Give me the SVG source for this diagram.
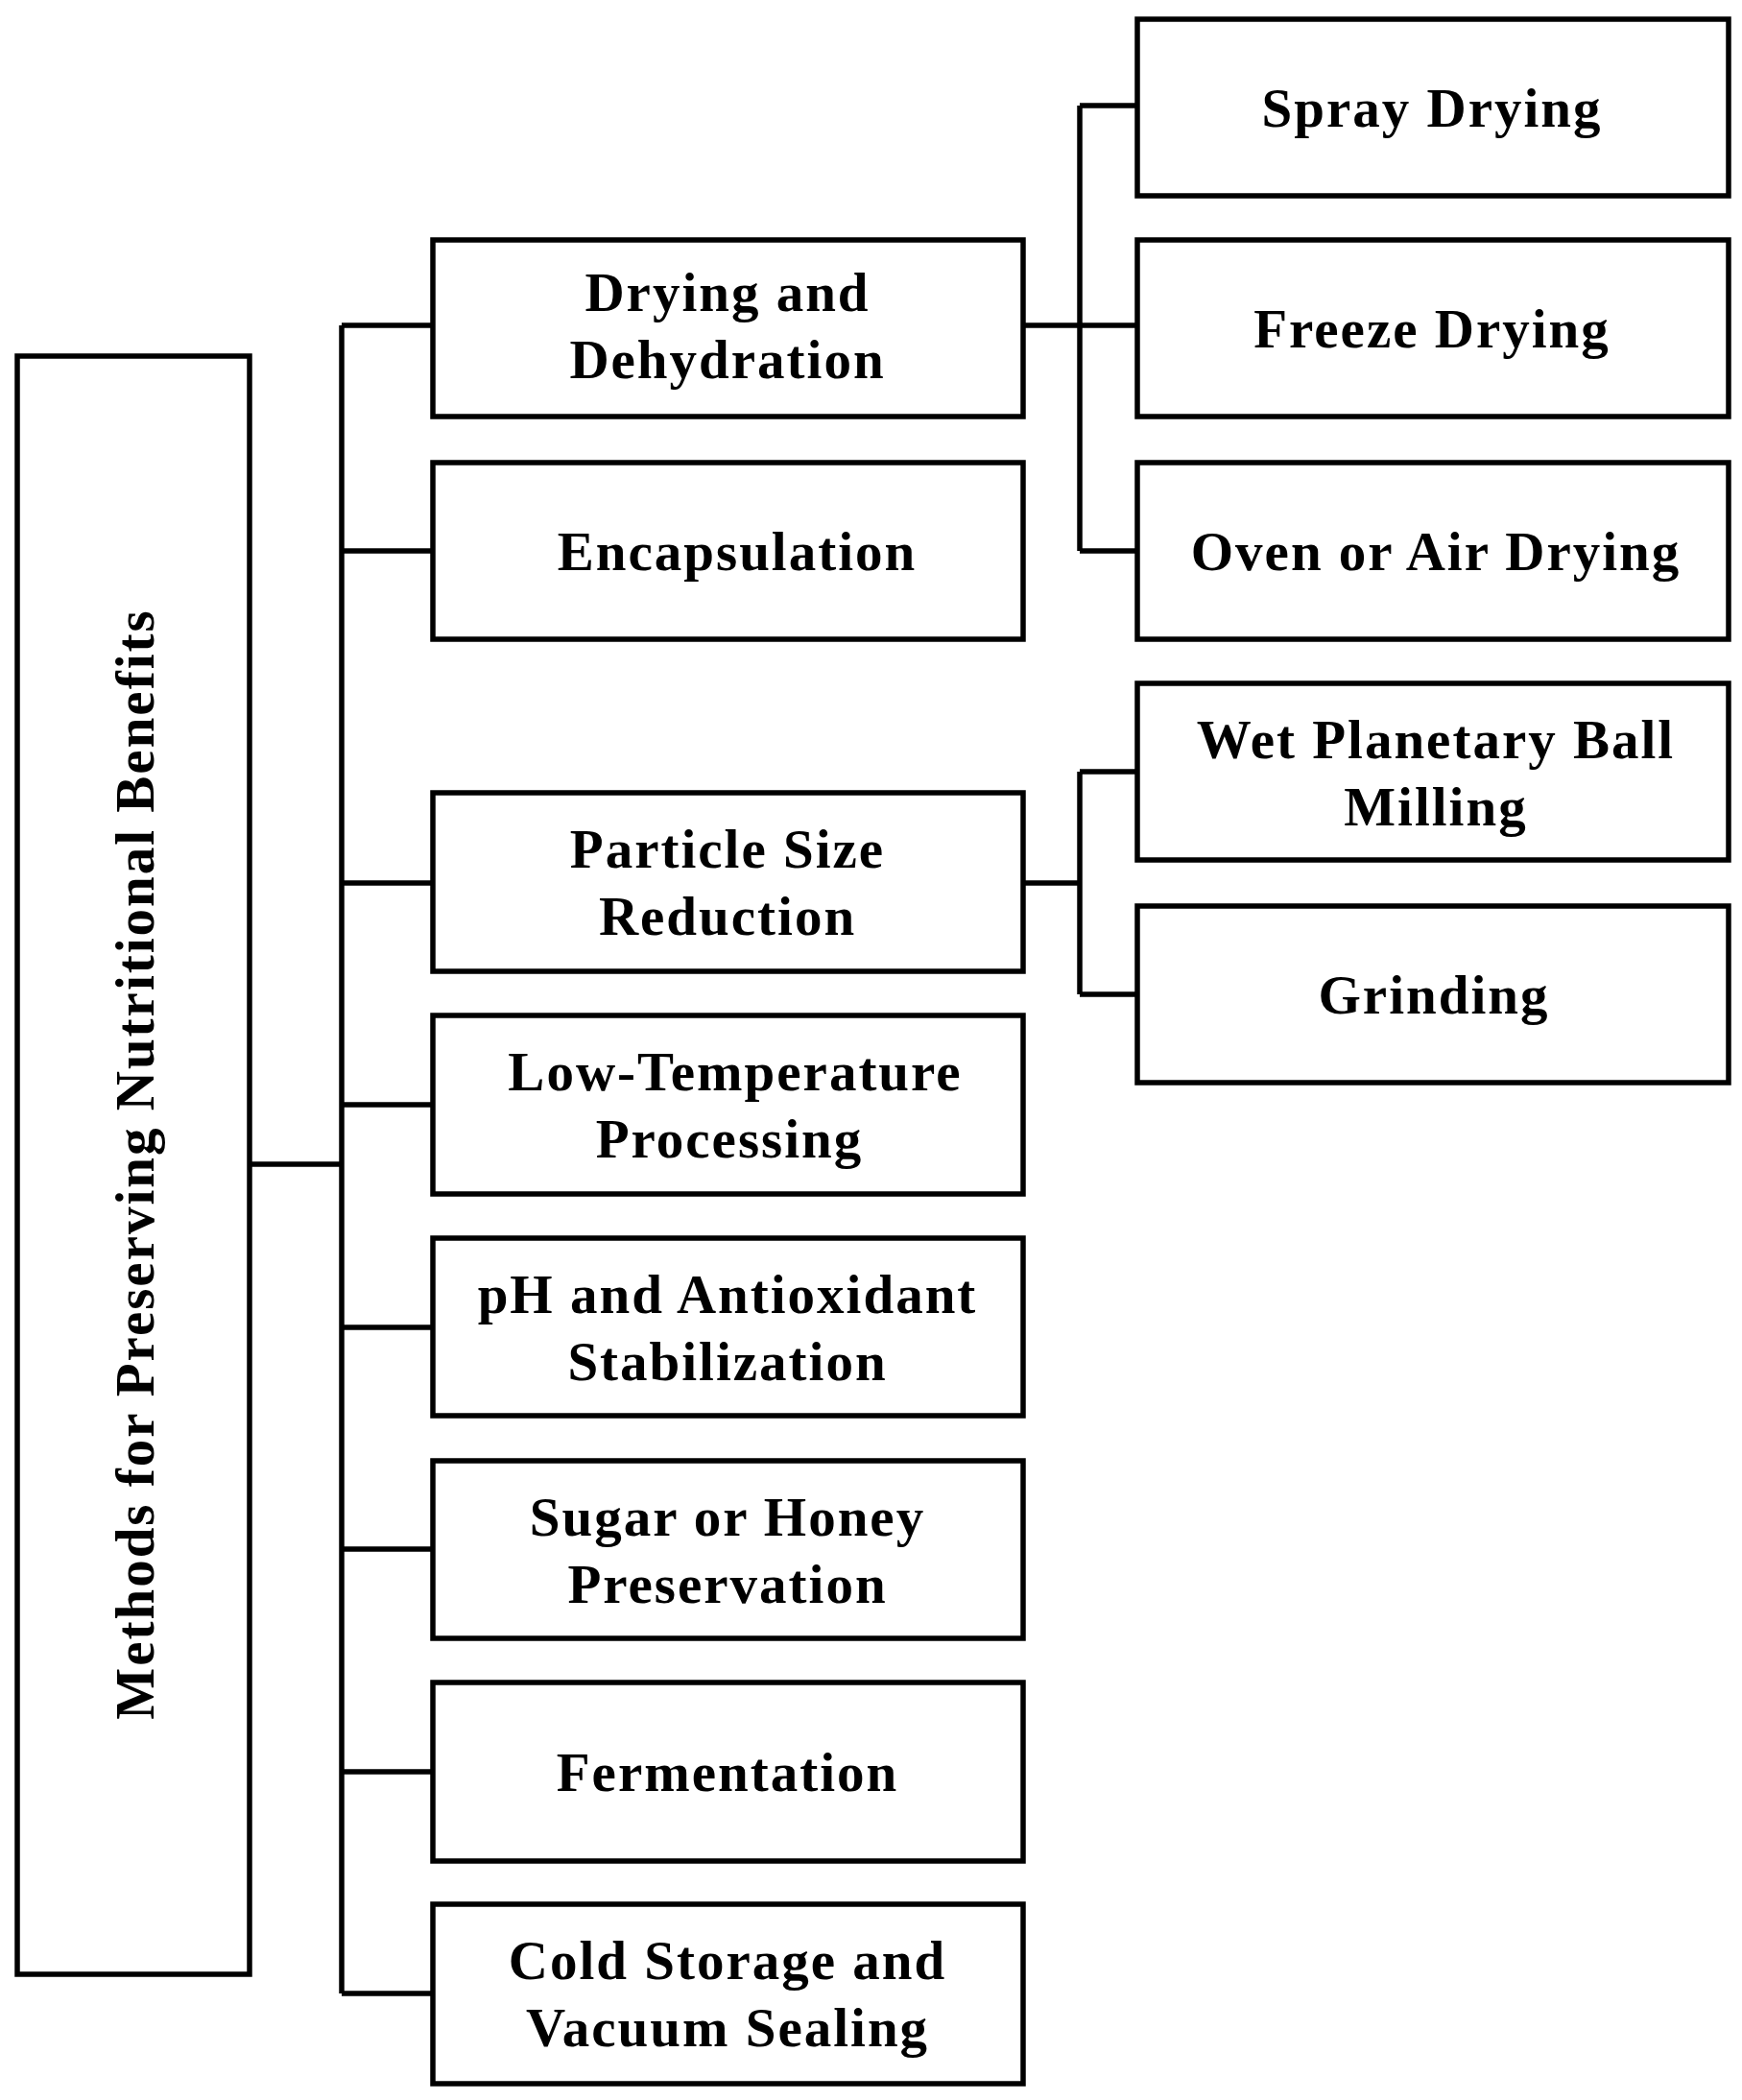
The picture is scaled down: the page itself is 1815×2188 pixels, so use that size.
<svg xmlns="http://www.w3.org/2000/svg" width="1815" height="2188" viewBox="0 0 1815 2188">
<style>
.b{fill:#fff;stroke:#000;stroke-width:5.5}
.c{fill:none;stroke:#000;stroke-width:5.5}
text{font-family:"Liberation Serif",serif;font-weight:bold;font-size:57px;text-anchor:middle;fill:#000;letter-spacing:2px}
</style>
<rect width="1815" height="2188" fill="#fff"/>
<g id="connectors">
<path class="c" d="M260 1213H356M356 339V2077M356 339H451M356 574H451M356 920H451M356 1151H451M356 1383H451M356 1614H451M356 1846H451M356 2077H451"/>
<path class="c" d="M1066 339H1185M1125 110V574M1125 110H1185M1125 574H1185"/>
<path class="c" d="M1066 920H1125M1125 804V1036M1125 804H1185M1125 1036H1185"/>
</g>
<g id="root"><rect class="b" x="18" y="371" width="242" height="1686"/><text transform="translate(160 1213) rotate(-90)">Methods for Preserving Nutritional Benefits</text></g>
<g id="n1"><rect class="b" x="451" y="250" width="615" height="184"/><text x="758" y="324">Drying and</text><text x="758" y="394">Dehydration</text></g>
<g id="n2"><rect class="b" x="451" y="482" width="615" height="184"/><text x="768" y="594">Encapsulation</text></g>
<g id="n3"><rect class="b" x="451" y="826" width="615" height="186"/><text x="758" y="904">Particle Size</text><text x="758" y="974">Reduction</text></g>
<g id="n4"><rect class="b" x="451" y="1058" width="615" height="186"/><text x="766" y="1136">Low-Temperature</text><text x="760" y="1206">Processing</text></g>
<g id="n5"><rect class="b" x="451" y="1290" width="615" height="185"/><text x="758" y="1368">pH and Antioxidant</text><text x="758" y="1438">Stabilization</text></g>
<g id="n6"><rect class="b" x="451" y="1522" width="615" height="185"/><text x="758" y="1600">Sugar or Honey</text><text x="758" y="1670">Preservation</text></g>
<g id="n7"><rect class="b" x="451" y="1753" width="615" height="186"/><text x="758" y="1866">Fermentation</text></g>
<g id="n8"><rect class="b" x="451" y="1984" width="615" height="187"/><text x="758" y="2062">Cold Storage and</text><text x="758" y="2132">Vacuum Sealing</text></g>
<g id="s1"><rect class="b" x="1185" y="20" width="616" height="184"/><text x="1492" y="132">Spray Drying</text></g>
<g id="s2"><rect class="b" x="1185" y="250" width="616" height="184"/><text x="1492" y="362">Freeze Drying</text></g>
<g id="s3"><rect class="b" x="1185" y="482" width="616" height="184"/><text x="1496" y="594">Oven or Air Drying</text></g>
<g id="s4"><rect class="b" x="1185" y="712" width="616" height="184"/><text x="1496" y="790">Wet Planetary Ball</text><text x="1496" y="860">Milling</text></g>
<g id="s5"><rect class="b" x="1185" y="944" width="616" height="184"/><text x="1494" y="1056">Grinding</text></g>
</svg>
